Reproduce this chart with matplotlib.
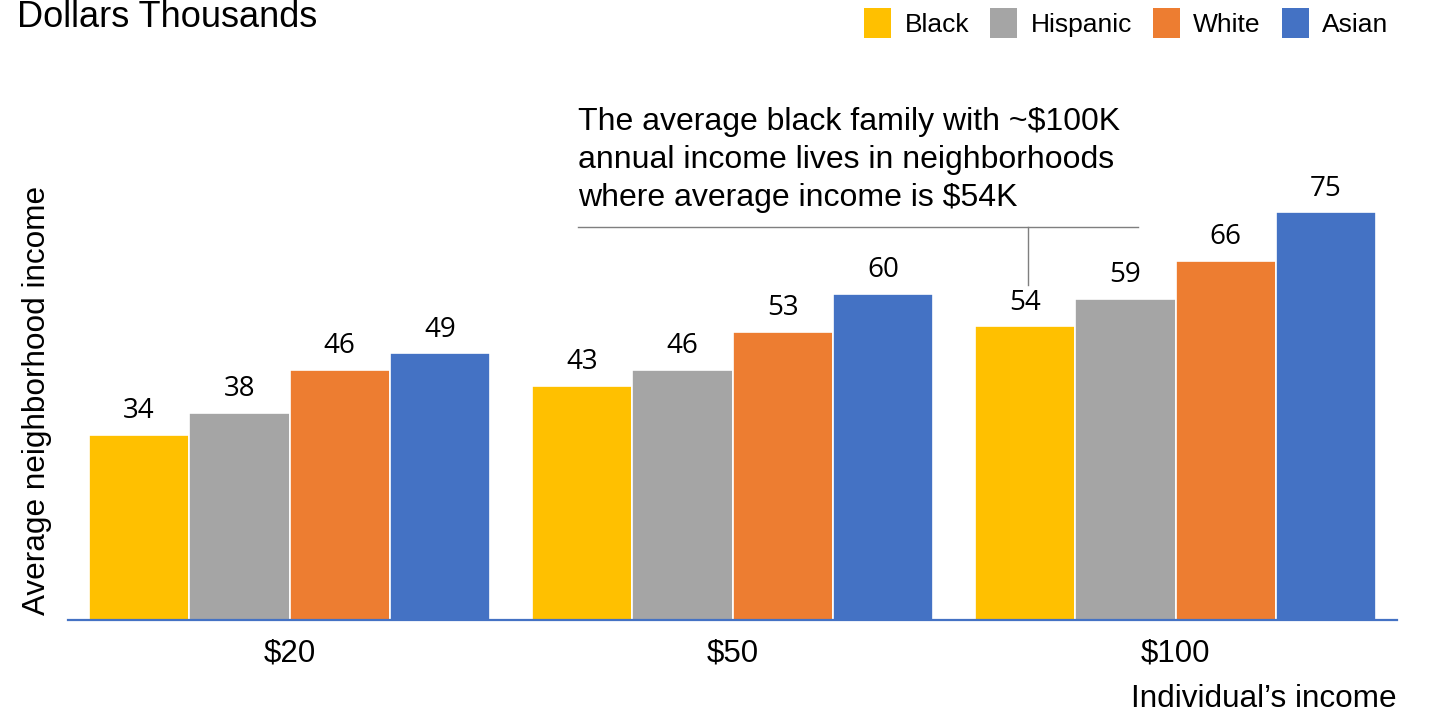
import matplotlib
matplotlib.use('Agg')
import matplotlib.pyplot as plt
import numpy as np
from matplotlib.patches import Patch

plt.rcParams['font.family'] = ['Liberation Sans', 'DejaVu Sans']

# 数据：按个人收入分组的社区平均收入（千美元）
income_groups = ['$20', '$50', '$100']
races = ['Black', 'Hispanic', 'White', 'Asian']
black = [34, 43, 54]
hispanic = [38, 46, 59]
white = [46, 53, 66]
asian = [49, 60, 75]
colors = ['#FFC000', '#A5A5A5', '#ED7D31', '#4472C4']

note_lines = ['The average black family with ~$100K',
              'annual income lives in neighborhoods',
              'where average income is $54K']

fig = plt.figure(figsize=(14.29, 7.21), dpi=100)
W, H = 1429, 721
ax = fig.add_axes([68 / W, 1 - 619.5 / H, 1329 / W, 434.4 / H])

x = np.arange(len(income_groups))
slot = 0.2263
for i, (name, vals) in enumerate(zip(races, [black, hispanic, white, asian])):
    pos = x + (i - 1.5) * slot
    bars = ax.bar(pos, vals, width=slot, color=colors[i], edgecolor='white', linewidth=1.2, label=name)
    for b, v in zip(bars, vals):
        ax.annotate(str(v), (b.get_x() + b.get_width() / 2, v), xytext=(0, 12),
                    textcoords='offset points', ha='center', va='baseline',
                    fontsize=20, family='Open Sans', color='black')

ax.set_xlim(-0.5, 2.5)
ax.set_ylim(0, 80)
ax.set_yticks([])
ax.set_xticks(x)
ax.set_xticklabels(income_groups, fontsize=22.5)
ax.tick_params(axis='x', length=0, pad=14)
for s in ['top', 'right', 'left']:
    ax.spines[s].set_visible(False)
ax.spines['bottom'].set_color('#4472C4')
ax.spines['bottom'].set_linewidth(1.6)

# 注释文字与指示线
for k, line in enumerate(note_lines):
    fig.text(578 / W, 1 - (130 + 38 * k) / H, line, fontsize=23, ha='left', va='baseline')
fig.add_artist(plt.Line2D([578 / W, 1138 / W], [1 - 227 / H, 1 - 227 / H], color='#7f7f7f', lw=1))
fig.add_artist(plt.Line2D([1028 / W, 1028 / W], [1 - 227 / H, 1 - 285 / H], color='#7f7f7f', lw=1))

fig.text(17 / W, 1 - 27 / H, 'Dollars Thousands', fontsize=26, ha='left', va='baseline')
fig.text(45 / W, 1 - 400 / H, 'Average neighborhood income', fontsize=22.7, rotation=90,
         rotation_mode='anchor', ha='center', va='baseline')
fig.text(1397 / W, 1 - 707 / H, 'Individual\u2019s income', fontsize=22.7, ha='right', va='baseline')

handles = [Patch(facecolor=c, label=r) for c, r in zip(colors, races)]
fig.legend(handles=handles, loc='upper right', bbox_to_anchor=(1388 / W, 1 - 8 / H), ncol=4,
           frameon=False, fontsize=19, handlelength=1.02, handleheight=1.4,
           handletextpad=0.5, columnspacing=0.8, borderpad=0, borderaxespad=0)

plt.savefig('out.png', dpi=100)
